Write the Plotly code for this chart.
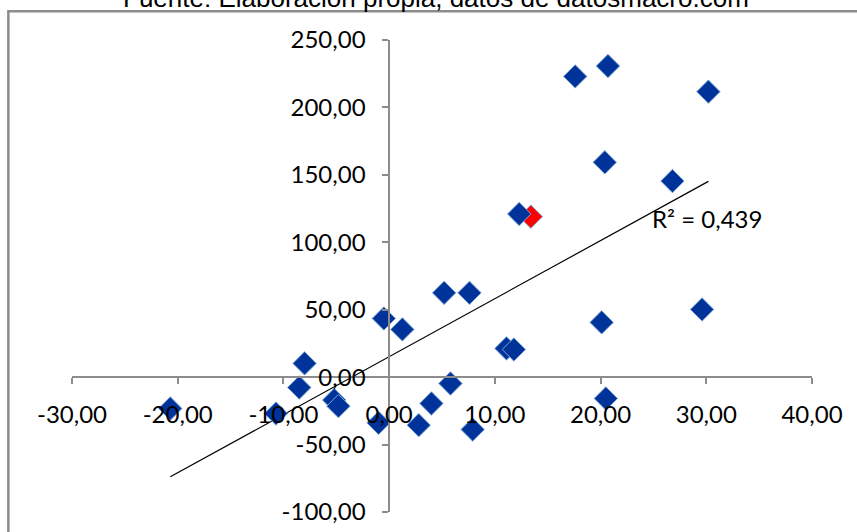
import numpy as np
import plotly.graph_objects as go

# blue series (x, y)
x_vals = [-20.7, -10.7, -8.5, -8.0, -5.2, -4.8, -0.5, -1.0, 1.25, 2.8, 4.0, 5.2, 5.8,
          7.6, 7.9, 11.1, 11.8, 12.3, 17.6, 20.7, 20.4, 20.1, 20.5, 26.8, 29.6, 30.2]
y_vals = [-23.3, -27.0, -7.7, 10.2, -17.0, -21.5, 43.5, -33.9, 35.4, -35.6, -19.5, 62.5, -4.7,
          62.5, -38.8, 21.3, 20.5, 121.0, 223.0, 230.7, 159.3, 40.6, -15.8, 145.4, 50.2, 211.7]
# highlighted point
red_x = [13.4]
red_y = [119.0]

x_ticks = [-30, -20, -10, 0, 10, 20, 30, 40]
y_ticks = [-100, -50, 0, 50, 100, 150, 200, 250]
fmt = lambda v: f"{v:.2f}".replace(".", ",")

all_x = np.array(x_vals + red_x)
all_y = np.array(y_vals + red_y)
slope, intercept = np.polyfit(all_x, all_y, 1)
line_x = np.array([all_x.min(), all_x.max()])

fig = go.Figure()
fig.add_trace(go.Scatter(x=line_x, y=slope * line_x + intercept, mode="lines",
                         line=dict(color="black", width=1.2), hoverinfo="skip"))
fig.add_trace(go.Scatter(x=red_x, y=red_y, mode="markers",
                         marker=dict(symbol="diamond", size=18, color="#ff0000",
                                     line=dict(color="#7aa6d8", width=1))))
fig.add_trace(go.Scatter(x=x_vals, y=y_vals, mode="markers",
                         marker=dict(symbol="diamond", size=18, color="#003399",
                                     line=dict(color="#7aa6d8", width=1))))

axis_font = dict(family="Lato", size=24, color="black")
fig.update_xaxes(range=[-30, 40], tickvals=x_ticks, ticktext=[fmt(v) for v in x_ticks],
                 showgrid=False, zeroline=False, showline=True, linecolor="#8c8c8c", linewidth=1.5,
                 ticks="outside", ticklen=6, tickcolor="#8c8c8c", tickwidth=1.5, automargin=False,
                 anchor="free", position=100 / 350, tickfont=axis_font, ticklabelstandoff=10)
fig.update_yaxes(range=[-100, 250], tickvals=y_ticks, ticktext=[fmt(v) for v in y_ticks],
                 showgrid=False, zeroline=False, showline=True, linecolor="#8c8c8c", linewidth=1.5,
                 ticks="outside", ticklen=6, tickcolor="#8c8c8c", tickwidth=1.5, automargin=False,
                 anchor="free", position=30 / 70, tickfont=axis_font, ticklabelstandoff=12)

fig.add_annotation(x=24.7, y=118, xref="x", yref="y", text="R² = 0,439", showarrow=False,
                   xanchor="left", yanchor="middle", font=axis_font)

# source line, partly cut off at the top as in the original
fig.add_annotation(x=0.492, y=1.089, xref="paper", yref="paper", showarrow=False,
                   text="Fuente: Elaboración propia, datos de datosmacro.com",
                   xanchor="center", yanchor="middle",
                   font=dict(family="Liberation Sans", size=26, color="black"))

# chart area border
fig.add_shape(type="rect", xref="paper", yref="paper", x0=-0.086, y0=-0.2, x1=1.2, y1=1.061,
              line=dict(color="#8c8c8c", width=2.5), layer="below")

fig.update_layout(
    width=857, height=532,
    margin=dict(l=72, r=45, t=40, b=20),
    plot_bgcolor="white", paper_bgcolor="white",
    showlegend=False,
)

fig.write_html("out.html", config={"displayModeBar": False},
               post_script="document.body.style.margin='0';")
